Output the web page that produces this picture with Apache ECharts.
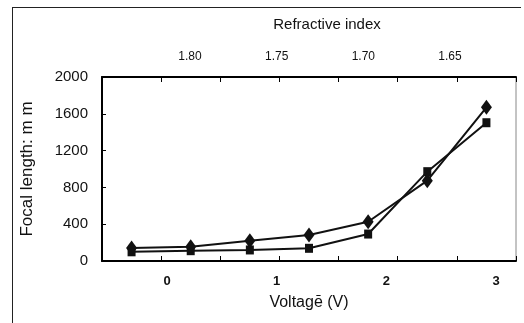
<!DOCTYPE html>
<html>
<head>
<meta charset="utf-8">
<script src="https://cdn.jsdelivr.net/npm/echarts@6/dist/echarts.min.js"></script>
<style>
html,body{margin:0;padding:0;background:#fff;overflow:hidden;}
#chart{position:absolute;left:0;top:0;width:524px;height:323px;}
#frame{position:absolute;left:12px;top:7px;width:508px;height:316px;border-left:1px solid #222;border-top:1px solid #222;pointer-events:none;}
</style>
</head>
<body>
<div id="chart"></div>
<div id="frame"></div>
<script>
// Data (7 measurement points, equally spaced along the category layout)
const categories = ['p1','p2','p3','p4','p5','p6','p7'];
const diamondSeries = [140, 155, 221, 283, 427, 873, 1671];
const squareSeries  = [100, 112, 120, 138, 293, 971, 1503];
const voltageTicks = [0, 1, 2, 3];
const refractiveTicks = [1.80, 1.75, 1.70, 1.65];

const FONT = '"Liberation Sans", Arial, sans-serif';
const chart = echarts.init(document.getElementById('chart'));
chart.setOption({
  animation: false,
  title: {
    text: 'Refractive index',
    left: 322, top: 12, textAlign: 'center',
    textStyle: {fontFamily: FONT, fontSize: 15, fontWeight: 'normal', color: '#111'}
  },
  grid: {left: 102, right: 8, top: 77, bottom: 62, show: true, borderColor: '#888', borderWidth: 1},
  xAxis: [
    { type: 'category', data: categories, position: 'bottom',
      axisLine: {show: true, onZero: false, lineStyle: {color: 'black', width: 2}},
      axisTick: {show: true, inside: true, interval: 0, length: 5, lineStyle: {color: 'black'}},
      axisLabel: {show: false}, splitLine: {show: false} },
    { type: 'category', data: categories, position: 'top',
      axisLine: {show: true, onZero: false, lineStyle: {color: 'black', width: 2}},
      axisTick: {show: true, inside: true, interval: 0, length: 5, lineStyle: {color: 'black'}},
      axisLabel: {show: false}, splitLine: {show: false} },
    { type: 'value', position: 'bottom', min: -0.593, max: 3.182,
      axisLine: {show: false, onZero: false}, axisTick: {show: false}, splitLine: {show: false},
      axisLabel: {customValues: voltageTicks, margin: 14, fontFamily: FONT, fontSize: 13, fontWeight: 'bold', color: '#111'},
      name: 'Voltagē (V)', nameLocation: 'middle', nameGap: 34,
      nameTextStyle: {fontFamily: FONT, fontSize: 16, color: '#111'} },
    { type: 'value', position: 'top', inverse: true, min: 1.6119, max: 1.8508,
      axisLine: {show: false, onZero: false}, axisTick: {show: false}, splitLine: {show: false},
      axisLabel: {customValues: refractiveTicks, margin: 14, fontFamily: FONT, fontSize: 12, color: '#111',
        formatter: v => v.toFixed(2)} }
  ],
  yAxis: [
    { type: 'value', min: 0, max: 2000, interval: 400, position: 'left',
      axisLine: {show: true, onZero: false, lineStyle: {color: 'black', width: 2}},
      axisTick: {show: true, inside: true, length: 4, lineStyle: {color: 'black'}},
      axisLabel: {margin: 14, fontFamily: FONT, fontSize: 15, color: '#111', formatter: v => String(v)},
      splitLine: {show: false},
      name: 'Focal length: m m', nameLocation: 'middle', nameGap: 66, nameRotate: 90,
      nameTextStyle: {fontFamily: FONT, fontSize: 17, color: '#111'} }
  ],
  series: [
    { type: 'line', xAxisIndex: 0, yAxisIndex: 0, data: squareSeries,
      symbol: 'rect', symbolSize: [8, 9],
      lineStyle: {color: '#111', width: 2}, itemStyle: {color: '#111'} },
    { type: 'line', xAxisIndex: 0, yAxisIndex: 0, data: diamondSeries,
      symbol: 'diamond', symbolSize: [11, 15],
      lineStyle: {color: '#111', width: 2}, itemStyle: {color: '#111'} }
  ]
});
</script>
</body>
</html>
